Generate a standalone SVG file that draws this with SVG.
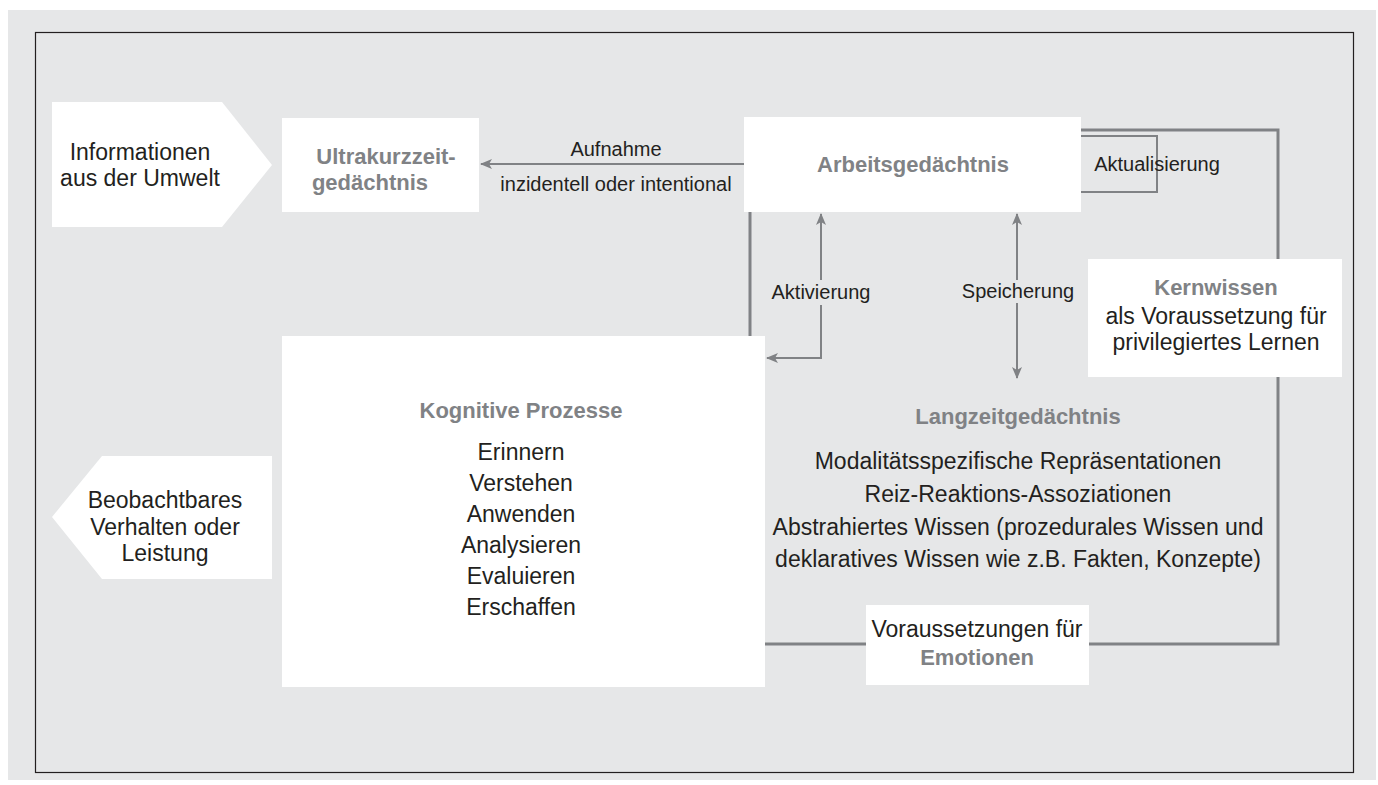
<svg xmlns="http://www.w3.org/2000/svg" width="1378" height="785" viewBox="0 0 1378 785">
  <defs>
    <style>
      .t { font-family: "Liberation Sans", Arial, sans-serif; font-size: 23px; fill: #231f20; text-anchor: middle; }
      .s { font-family: "Liberation Sans", Arial, sans-serif; font-size: 20px; fill: #231f20; text-anchor: middle; }
      .b { font-family: "Liberation Sans", Arial, sans-serif; font-size: 22px; font-weight: bold; fill: #808285; text-anchor: middle; }
      .box { fill: #ffffff; }
      .ln { stroke: #808285; stroke-width: 2; fill: none; }
      .loop { stroke: #808285; stroke-width: 3; fill: none; }
    </style>
    <marker id="ah" viewBox="0 0 12 10" refX="11" refY="5" markerWidth="12" markerHeight="10" markerUnits="userSpaceOnUse" orient="auto-start-reverse">
      <path d="M0,0 L12,5 L0,10 L3,5 Z" fill="#808285"/>
    </marker>
  </defs>

  <rect x="0" y="0" width="1378" height="785" fill="#ffffff"/>
  <rect x="8" y="10" width="1368" height="770" fill="#e6e7e8"/>
  <rect x="35.5" y="32.5" width="1318" height="740" fill="none" stroke="#231f20" stroke-width="1.2"/>

  <g id="connectors">
    <rect class="loop" x="750" y="130" width="528" height="514"/>
    <polyline points="1081,136 1157,136 1157,192 1081,192" fill="none" stroke="#808285" stroke-width="2"/>
    <line class="ln" x1="744" y1="164" x2="481" y2="164" marker-end="url(#ah)"/>
    <polyline class="ln" points="821,280 821,214" marker-end="url(#ah)"/>
    <polyline class="ln" points="821,305 821,358 767,358" marker-end="url(#ah)"/>
    <line class="ln" x1="1017" y1="280" x2="1017" y2="214" marker-end="url(#ah)"/>
    <line class="ln" x1="1017" y1="303" x2="1017" y2="378" marker-end="url(#ah)"/>
    <text class="s" x="616" y="156">Aufnahme</text>
    <text class="s" x="616" y="191">inzidentell oder intentional</text>
    <text class="s" x="821" y="299">Aktivierung</text>
    <text class="s" x="1018" y="298">Speicherung</text>
    <text class="s" x="1157" y="171">Aktualisierung</text>
  </g>

  <g id="informationen">
    <polygon class="box" points="52,102 222,102 272,165 222,227 52,227"/>
    <text class="t" x="140" y="160">Informationen</text>
    <text class="t" x="140" y="186">aus der Umwelt</text>
  </g>

  <g id="ultrakurzzeit">
    <rect class="box" x="282" y="118" width="197" height="94"/>
    <text class="b" x="386" y="164">Ultrakurzzeit-</text>
    <text class="b" x="370" y="190">gedächtnis</text>
  </g>

  <g id="arbeitsgedaechtnis">
    <rect class="box" x="744" y="117" width="337" height="95"/>
    <text class="b" x="913" y="172">Arbeitsgedächtnis</text>
  </g>

  <g id="kernwissen">
    <rect class="box" x="1088" y="259" width="254" height="118"/>
    <text class="b" x="1216" y="295">Kernwissen</text>
    <text class="t" x="1216" y="324">als Voraussetzung für</text>
    <text class="t" x="1216" y="350">privilegiertes Lernen</text>
  </g>

  <g id="kognitive">
    <rect class="box" x="282" y="336" width="483" height="351"/>
    <text class="b" x="521" y="418">Kognitive Prozesse</text>
    <text class="t" x="521" y="460">Erinnern</text>
    <text class="t" x="521" y="491">Verstehen</text>
    <text class="t" x="521" y="522">Anwenden</text>
    <text class="t" x="521" y="553">Analysieren</text>
    <text class="t" x="521" y="584">Evaluieren</text>
    <text class="t" x="521" y="615">Erschaffen</text>
  </g>

  <g id="langzeit">
    <text class="b" x="1018" y="424">Langzeitgedächtnis</text>
    <text class="t" x="1018" y="469">Modalitätsspezifische Repräsentationen</text>
    <text class="t" x="1018" y="502">Reiz-Reaktions-Assoziationen</text>
    <text class="t" x="1018" y="535">Abstrahiertes Wissen (prozedurales Wissen und</text>
    <text class="t" x="1018" y="567">deklaratives Wissen wie z.B. Fakten, Konzepte)</text>
  </g>

  <g id="emotionen">
    <rect class="box" x="866" y="605" width="223" height="80"/>
    <text class="t" x="977" y="637">Voraussetzungen für</text>
    <text class="b" x="977" y="665">Emotionen</text>
  </g>

  <g id="beobachtbar">
    <polygon class="box" points="52,517 102,456 272,456 272,579 102,579"/>
    <text class="t" x="165" y="508">Beobachtbares</text>
    <text class="t" x="165" y="535">Verhalten oder</text>
    <text class="t" x="165" y="561">Leistung</text>
  </g>
</svg>
